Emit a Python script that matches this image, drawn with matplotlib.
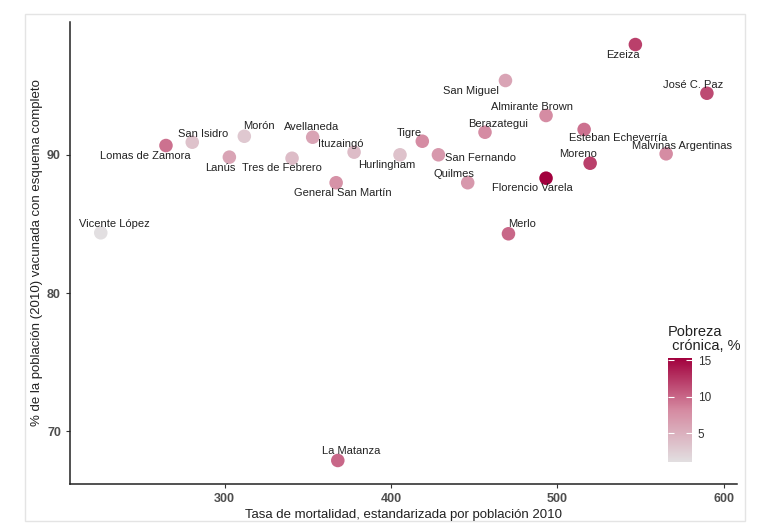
import matplotlib
matplotlib.use("Agg")
import matplotlib.pyplot as plt
from matplotlib.colors import LinearSegmentedColormap
from matplotlib.patches import Rectangle

plt.rcParams['font.family'] = ['Liberation Sans', 'DejaVu Sans']

# datos
partidos = ["Lomas de Zamora", "San Isidro", "Morón", "Avellaneda", "Ituzaingó",
            "Lanús", "Tres de Febrero", "General San Martín", "Hurlingham", "Tigre",
            "San Fernando", "Quilmes", "Berazategui", "San Miguel", "Almirante Brown",
            "Florencio Varela", "Merlo", "Ezeiza", "José C. Paz", "Esteban Echeverría",
            "Malvinas Argentinas", "Moreno", "Vicente López", "La Matanza"]
mortalidad = [264.7, 280.5, 311.8, 352.9, 377.8, 302.8, 340.5, 367.0, 405.4, 418.8,
              428.5, 446.1, 456.5, 468.8, 493.2, 493.2, 470.6, 546.9, 589.9, 516.1,
              565.4, 519.7, 225.5, 368.0]
vacunada = [90.67, 90.91, 91.34, 91.27, 90.19, 89.83, 89.75, 87.98, 90.0, 90.98,
            90.0, 87.98, 91.63, 95.37, 92.84, 88.31, 84.29, 97.97, 94.45, 91.83,
            90.07, 89.39, 84.36, 67.9]
pobreza = [9.5, 3.5, 3.0, 6.0, 4.0, 6.0, 4.0, 7.5, 3.5, 8.0,
           7.0, 7.0, 8.0, 6.0, 8.0, 15.3, 10.0, 12.0, 11.5, 9.5,
           8.0, 12.0, 1.1, 10.0]

# desplazamiento de etiquetas (pixeles, x derecha / y abajo)
offsets = [(-21, 10.7), (11, -8.4), (15, -10), (-1, -10.7), (-13.3, -8.4),
           (-9.3, 10.6), (-10.3, 9.6), (6.7, 10.4), (-13.3, 10), (-13, -8.4),
           (6.7, 3), (-13.7, -9), (13.3, -8.4), (-34.6, 10), (-13.7, -8.3),
           (-13.7, 10), (13.4, -9.3), (-12.6, 10), (-13.4, -8.7), (34.3, 8.7),
           (15.7, -8), (-11.7, -9.4), (13.3, -9), (13, -9)]

cmap = LinearSegmentedColormap.from_list("pob", ["#e2dfe1", "#d58aa1", "#a2003d"])

W, H = 768, 529
fig = plt.figure(figsize=(W / 100, H / 100), dpi=100)
fig.patches.append(Rectangle((25 / W, 8 / H), 720 / W, 507 / H, transform=fig.transFigure,
                             facecolor="white", edgecolor="#e4e4e4", lw=1, zorder=-5))

ax = fig.add_axes([70 / W, (H - 484) / H, 667 / W, 462 / H])
ax.set_facecolor("none")
sc = ax.scatter(mortalidad, vacunada, c=pobreza, cmap=cmap, vmin=1.1, vmax=15.3,
                s=95, edgecolors="none", zorder=3)

for nombre, x, y, (dx, dy) in zip(partidos, mortalidad, vacunada, offsets):
    ha = "left" if nombre == "San Fernando" else "center"
    ax.annotate(nombre, (x, y), xytext=(dx, -dy), textcoords="offset pixels",
                ha=ha, va="center", fontsize=8, color="#222222", zorder=4)

ax.set_xlim(207, 608)
ax.set_ylim(66.2, 99.6)
ax.set_xticks([300, 400, 500, 600])
ax.set_yticks([70, 80, 90])
for s in ["top", "right"]:
    ax.spines[s].set_visible(False)
for s in ["left", "bottom"]:
    ax.spines[s].set_linewidth(1.1)
    ax.spines[s].set_color("#222222")
ax.tick_params(length=3, color="#333333", labelsize=9, labelcolor="#4d4d4d")
for t in ax.get_xticklabels() + ax.get_yticklabels():
    t.set_fontweight("bold")
ax.set_xlabel("Tasa de mortalidad, estandarizada por población 2010", fontsize=9.5,
              color="#222222", labelpad=3)
ax.set_ylabel("% de la población (2010) vacunada con esquema completo", fontsize=9.5,
              color="#222222", labelpad=3)

cax = fig.add_axes([668 / W, (H - 462) / H, 24 / W, 104 / H])
cb = fig.colorbar(sc, cax=cax)
cb.outline.set_visible(False)
cb.set_ticks([5, 10, 15])
cax.tick_params(left=True, right=True, direction="in", length=4, color="white",
                labelsize=8.5, labelcolor="#333333", pad=4)
fig.text(668 / W, 1 - 339 / H, "Pobreza\n crónica, %", fontsize=10.5, color="#222222",
         ha="left", va="center", linespacing=1.0)

fig.savefig("out.png", dpi=100)
